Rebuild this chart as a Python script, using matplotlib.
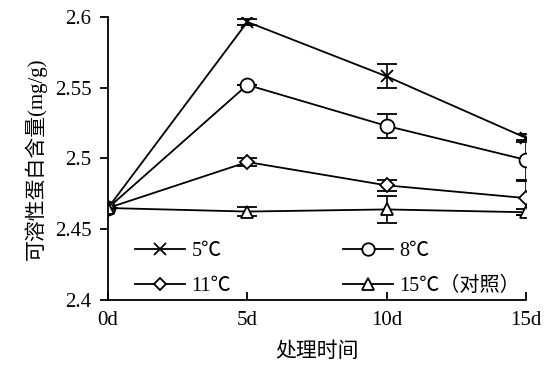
import matplotlib
matplotlib.use("Agg")
import matplotlib.pyplot as plt
from matplotlib.lines import Line2D

plt.rcParams['font.family'] = ['Liberation Serif', 'Noto Sans CJK SC']

days = [0, 5, 10, 15]
day_labels = ["0d", "5d", "10d", "15d"]
names = ["5℃", "8℃", "11℃", "15℃（对照）"]
v5 = [2.465, 2.5965, 2.558, 2.5145]
e5 = [0.0, 0.002, 0.0085, 0.003]
v8 = [2.465, 2.552, 2.523, 2.499]
e8 = [0.0, 0.0, 0.0085, 0.014]
v11 = [2.465, 2.4975, 2.481, 2.472]
e11 = [0.0, 0.003, 0.004, 0.012]
v15 = [2.465, 2.4625, 2.464, 2.462]
e15 = [0.0, 0.003, 0.0095, 0.002]

series = [(v5, e5, "x", 9), (v8, e8, "o", 10), (v11, e11, "D", 7), (v15, e15, "^", 9)]

fig = plt.figure(figsize=(5.48, 3.69), dpi=100)
ax = fig.add_axes([0.197, 0.187, 0.763, 0.767])

handles = []
for (v, e, m, ms), name in zip(series, names):
    ax.errorbar(days, v, yerr=e, color="black", lw=1.3, marker=m, ms=ms,
                mfc="white", mec="black", mew=1.3, capsize=7, elinewidth=1.2,
                capthick=1.2)
    handles.append(Line2D([], [], color="black", lw=1.3, marker=m, ms=ms - 1,
                          mfc="white", mec="black", mew=1.3, label=name))

ax.set_xlim(0, 15)
ax.set_ylim(2.4, 2.6)
ax.set_yticks([2.4, 2.45, 2.5, 2.55, 2.6])
ax.set_yticklabels(["2.4", "2.45", "2.5", "2.55", "2.6"])
ax.set_xticks(days)
ax.set_xticklabels(day_labels)
ax.spines["top"].set_visible(False)
ax.spines["right"].set_visible(False)
for s in ["left", "bottom"]:
    ax.spines[s].set_linewidth(1.3)
ax.tick_params(axis="y", direction="out", length=6, width=1.3, labelsize=15, pad=6)
ax.tick_params(axis="x", direction="in", length=6, width=1.3, labelsize=15, pad=8)

ax.set_ylabel("可溶性蛋白含量(mg/g)", fontsize=15, labelpad=6)
ax.set_xlabel("处理时间", fontsize=15, labelpad=9)

legkw = dict(loc="upper left", frameon=False, fontsize=14.5, handlelength=2.5,
             labelspacing=0.8, handletextpad=0.3, borderpad=0, borderaxespad=0)
leg1 = ax.legend(handles=[handles[0], handles[2]], bbox_to_anchor=(0.065, 0.205), **legkw)
ax.add_artist(leg1)
ax.legend(handles=[handles[1], handles[3]], bbox_to_anchor=(0.562, 0.205), **legkw)

fig.savefig("out.png", dpi=100)
